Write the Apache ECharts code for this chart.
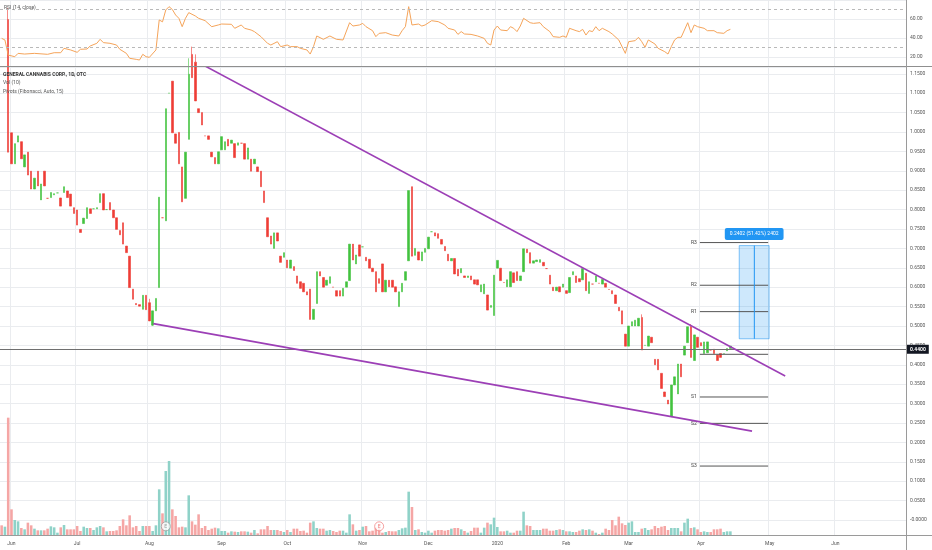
<!DOCTYPE html>
<html><head><meta charset="utf-8">
<script src="https://cdn.jsdelivr.net/npm/echarts@6/dist/echarts.min.js"></script>
<style>html,body{margin:0;padding:0;background:#fff}#c{width:932px;height:550px}</style>
</head><body><div id="c"></div>
<script>
// ---------- data ----------
const startDate = '2019-05-29';
const barCount = 276;
const holidays = ['2019-07-04','2019-09-02','2019-11-28','2019-12-25','2020-01-01','2020-01-20','2020-02-17','2020-04-10','2020-05-25'];
const monthAbbr = ['Jan','Feb','Mar','Apr','May','Jun','Jul','Aug','Sep','Oct','Nov','Dec'];

const openPrices = [1.30,1.26,1.29,0.998,0.918,0.974,0.975,0.910,0.948,0.899,
0.853,0.899,0.825,0.899,0.829,0.831,0.838,0.843,0.830,0.844,
0.848,0.840,0.805,0.799,0.749,0.764,0.777,0.802,0.802,0.802,
0.818,0.841,0.800,0.818,0.799,0.779,0.746,0.766,0.706,0.680,
0.595,0.558,0.555,0.543,0.579,0.560,0.502,0.539,0.599,0.779,
0.771,1.100,1.131,0.995,0.999,0.910,0.829,0.981,1.200,1.180,
1.060,1.050,0.990,0.990,0.948,0.934,0.918,0.954,0.954,0.981,
0.971,0.970,0.966,0.971,0.970,0.930,0.930,0.918,0.910,0.899,
0.848,0.779,0.732,0.700,0.740,0.680,0.677,0.670,0.649,0.653,
0.629,0.614,0.610,0.588,0.595,0.517,0.558,0.640,0.625,0.605,
0.610,0.600,0.591,0.591,0.577,0.600,0.617,0.711,0.660,0.709,
0.704,0.677,0.672,0.649,0.640,0.622,0.660,0.588,0.618,0.618,
0.601,0.550,0.588,0.618,0.668,0.859,0.682,0.691,0.668,0.690,
0.699,0.743,0.740,0.738,0.723,0.705,0.685,0.668,0.674,0.646,
0.637,0.629,0.625,0.629,0.619,0.619,0.588,0.583,0.580,0.548,
0.527,0.649,0.649,0.612,0.601,0.601,0.637,0.640,0.617,0.640,
0.698,0.689,0.662,0.666,0.664,0.664,0.648,0.631,0.600,0.591,
0.601,0.600,0.591,0.586,0.632,0.629,0.622,0.619,0.636,0.584,
0.608,0.614,0.610,0.608,0.610,0.594,0.591,0.580,0.548,0.539,
0.479,0.448,0.500,0.500,0.500,0.522,0.450,0.448,0.471,0.414,
0.414,0.378,0.330,0.309,0.268,0.348,0.325,0.402,0.425,0.457,
0.498,0.411,0.471,0.457,0.429,0.431,0.438,0.440,0.425,0.429,
0.429,0.436,0.442];

const closePrices = [1.26,1.29,0.948,0.918,0.970,0.990,0.931,0.941,0.889,0.853,
0.881,0.861,0.866,0.861,0.829,0.844,0.841,0.843,0.809,0.859,
0.831,0.809,0.790,0.760,0.741,0.778,0.805,0.790,0.802,0.805,
0.841,0.799,0.800,0.799,0.779,0.749,0.735,0.711,0.689,0.599,
0.569,0.555,0.551,0.579,0.542,0.513,0.539,0.571,0.832,0.779,
1.060,1.100,0.998,0.971,0.918,0.820,0.948,1.149,1.140,1.080,
1.050,1.018,0.990,0.981,0.936,0.918,0.949,0.988,0.975,0.964,
0.979,0.934,0.972,0.971,0.930,0.959,0.899,0.930,0.898,0.859,
0.818,0.730,0.711,0.740,0.719,0.664,0.689,0.650,0.670,0.643,
0.610,0.597,0.588,0.580,0.517,0.543,0.640,0.629,0.600,0.618,
0.627,0.600,0.577,0.577,0.597,0.614,0.711,0.670,0.683,0.680,
0.704,0.668,0.649,0.640,0.588,0.610,0.588,0.618,0.601,0.600,
0.588,0.588,0.610,0.640,0.849,0.680,0.700,0.670,0.691,0.700,
0.729,0.743,0.732,0.726,0.711,0.694,0.668,0.674,0.634,0.629,
0.648,0.625,0.629,0.619,0.608,0.606,0.606,0.608,0.541,0.553,
0.631,0.669,0.617,0.612,0.619,0.640,0.612,0.617,0.629,0.699,
0.689,0.662,0.668,0.670,0.671,0.655,0.648,0.608,0.591,0.600,
0.588,0.608,0.584,0.625,0.640,0.612,0.614,0.648,0.591,0.614,
0.608,0.629,0.610,0.620,0.600,0.594,0.583,0.558,0.539,0.505,
0.448,0.500,0.511,0.515,0.520,0.438,0.450,0.474,0.457,0.400,
0.387,0.339,0.318,0.299,0.348,0.369,0.402,0.369,0.448,0.498,
0.419,0.477,0.445,0.449,0.459,0.459,0.438,0.429,0.411,0.419,
0.429,0.442,0.448];

// visible wicks (bar index -> price); other bars have no wick beyond the body
const wickHighs = {2:1.32, 45:0.57, 57:1.19, 58:1.22, 59:1.20, 195:0.53, 210:0.505};
const wickLows = {46:0.500, 204:0.265};

const volumes = [29,25,352,77,45,41,21,17,37,29,
19,14,14,14,19,26,23,7,23,30,
17,17,17,27,12,25,21,21,15,23,
27,23,11,12,12,14,27,47,29,59,
23,27,12,27,27,27,12,29,137,65,
192,222,77,57,23,25,23,119,41,31,
62,21,27,15,19,22,20,12,12,7,
11,10,9,11,11,10,7,15,5,17,
17,27,15,15,15,12,9,15,9,19,
19,12,13,7,37,41,21,19,19,13,
15,12,9,13,13,7,62,32,13,15,
25,27,11,13,22,32,7,9,12,11,
11,15,20,22,130,84,15,17,9,7,
13,7,13,15,15,13,15,19,21,21,
17,12,7,12,22,22,7,22,37,32,
52,24,11,11,13,7,7,13,13,70,
29,27,15,15,15,19,19,13,13,15,
17,15,11,11,9,9,13,17,15,17,
13,7,3,7,19,15,45,29,55,35,
30,37,41,9,9,19,21,15,17,27,
21,25,27,15,21,21,21,11,37,49,
21,23,17,9,11,9,9,17,17,19,
9,11,11];

const rsiPoints = [[0,39.6],[1,37.9],[2,22],[4,20.3],[5,23.8],[7,23.1],[10,23.8],[14,22.8],[16,24.5],[18,24.5],[19,29.1],[21,27.4],[23,24.9],[24,28.1],[26,28.4],[27,31.6],[29,34.4],[30,38.6],[31,35.1],[33,34.4],[35,32.6],[36,28.1],[38,23.8],[39,18.6],[41,17.5],[42,16.8],[43,22.8],[44,20.3],[45,19.6],[47,27.4],[48,59],[49,57],[50,69.5],[51,73],[52,70],[53,64.2],[54,60.7],[55,51.9],[56,60.7],[57,66.7],[59,63.2],[60,60.7],[62,58.2],[64,51.9],[66,53.7],[67,54.7],[70,54.4],[71,50.2],[73,53.7],[74,50.2],[76,48.4],[77,46.7],[79,41.4],[81,34.4],[82,32.6],[84,36.1],[85,30.9],[87,32.6],[88,30.9],[90,30.9],[91,29.1],[93,27.4],[94,23.1],[95,30.9],[96,42.1],[98,38.6],[100,42.1],[102,38.6],[104,37.9],[106,56.1],[107,52.6],[109,53.7],[110,55.4],[111,51.9],[113,47.7],[114,41.4],[115,44.9],[117,45.6],[119,43.1],[121,42.1],[122,47.7],[123,52],[124,73],[125,53.7],[127,54.7],[128,52.6],[129,53.7],[131,58.2],[133,57.2],[135,53.7],[136,50.2],[138,48.4],[139,43.8],[140,46.7],[141,44.2],[143,43.8],[145,42.1],[147,39.6],[148,34.4],[149,32.6],[150,48.4],[151,52.6],[152,48.4],[154,47.7],[155,51.9],[156,50.2],[157,46.7],[158,52.6],[159,60.7],[161,56.1],[162,55.4],[164,56.1],[165,51.9],[167,46.7],[168,41.4],[170,40.7],[171,42.1],[172,40.7],[173,50.2],[175,47.7],[176,46.7],[177,49.1],[178,43.1],[179,47.7],[180,46.7],[181,51.9],[182,47.7],[183,50.2],[185,46.7],[186,44.2],[188,37.9],[190,23.8],[191,36.1],[193,37.2],[194,40.7],[195,36.1],[196,30.2],[197,37.9],[199,33.7],[200,29.1],[202,25.6],[203,23.1],[204,30.9],[205,37.9],[206,40.7],[207,40.7],[209,56.1],[210,45.6],[211,53.7],[212,51.9],[214,50.2],[215,47.7],[217,47.7],[218,45.6],[220,44.9],[221,47.7],[222,49.1]];
const rsiLevels = [70, 30];

// drawings (bar index, price)
const horizontalLevel = 0.44;
const upperTrend = [[58, 1.188], [238.7, 0.371]];
const lowerTrend = [[46.2, 0.506], [228.6, 0.229]];
const pivotNames = ['R3','R2','R1','P','S1','S2','S3'];
const pivotLevels = [0.715, 0.605, 0.537, 0.427, 0.317, 0.249, 0.139];
const pivotSpan = [212.7, 233.5];
const measureSpan = [224.7, 233.8];
const measureMid = 229.3;
const measurePrices = [0.467, 0.7072];
const measureText = '0.2402 (51.42%) 2402';
const earningsBars = [50, 115];
const earningsColors = ['#8a8a8a', '#ef6b6b'];

// ---------- derived ----------
const categories = [], monthLabel = [];
(function(){
  const d = new Date(startDate + 'T00:00:00Z');
  let prev = -1;
  while (categories.length < barCount) {
    const wd = d.getUTCDay(), iso = d.toISOString().slice(0,10);
    if (wd !== 0 && wd !== 6 && holidays.indexOf(iso) < 0) {
      const m = d.getUTCMonth();
      categories.push(iso);
      monthLabel.push(prev !== -1 && m !== prev ? (m === 0 ? String(d.getUTCFullYear()) : monthAbbr[m]) : '');
      prev = m;
    }
    d.setUTCDate(d.getUTCDate() + 1);
  }
})();
const isMonthStart = i => monthLabel[i] !== '';

const candleData = openPrices.map((o, i) => {
  const c = closePrices[i];
  const lo = wickLows[i] !== undefined ? wickLows[i] : Math.min(o, c);
  const hi = wickHighs[i] !== undefined ? wickHighs[i] : Math.max(o, c);
  return [o, c, lo, hi];
});
const UP = '#43c23f', DOWN = '#ee3d36';
const VUP = '#8fd2c8', VDOWN = '#f5a6a5';
function isUp(i) {
  const o = openPrices[i], c = closePrices[i];
  if (c !== o) return c > o;
  return i === 0 ? true : c >= closePrices[i - 1];
}
const volumeData = volumes.map((v, i) => ({ value: v, itemStyle: { color: isUp(i) ? VUP : VDOWN } }));

const FONT = 'Roboto, "Liberation Sans", sans-serif';
const GRIDLINE = '#eaecef';
const AXISTEXT = '#555';

const pivotSeries = pivotNames.map((name, k) => ({
  type: 'line', xAxisIndex: 3, yAxisIndex: 1, z: 4, silent: true,
  symbol: 'circle', symbolSize: 0, showSymbol: true,
  lineStyle: { color: '#555', width: 1 },
  data: [
    { value: [pivotSpan[0], pivotLevels[k]], label: { show: name !== 'P', position: 'left', distance: 3, formatter: name, fontSize: 5, color: '#444', fontFamily: FONT } },
    { value: [pivotSpan[1], pivotLevels[k]] }
  ]
}));

const option = {
  animation: false,
  backgroundColor: '#ffffff',
  textStyle: { fontFamily: FONT },
  grid: [
    { left: 0, right: 26, top: 0, height: 66 },
    { left: 0, right: 26, top: 67, bottom: 15 },
    { left: 0, right: 26, top: 385, bottom: 15 }
  ],
  xAxis: [
    { type: 'category', gridIndex: 0, data: categories, boundaryGap: true,
      axisLine: { show: false }, axisTick: { show: false }, axisLabel: { show: false },
      splitLine: { show: true, interval: (i) => isMonthStart(i), lineStyle: { color: GRIDLINE } } },
    { type: 'category', gridIndex: 1, data: categories, boundaryGap: true,
      axisLine: { show: false }, axisTick: { show: false },
      axisLabel: { show: true, interval: (i) => isMonthStart(i), formatter: (v, i) => monthLabel[i], fontSize: 5, color: AXISTEXT, margin: 6 },
      splitLine: { show: true, interval: (i) => isMonthStart(i), lineStyle: { color: GRIDLINE } } },
    { type: 'category', gridIndex: 2, data: categories, boundaryGap: true, show: false },
    { type: 'value', gridIndex: 1, min: -0.5, max: barCount - 0.5, show: false }
  ],
  yAxis: [
    { type: 'value', gridIndex: 0, position: 'right', min: 10.5, max: 80, splitNumber: 4,
      axisLine: { show: false }, axisTick: { show: false },
      axisLabel: { fontSize: 5, color: AXISTEXT, margin: 4, showMinLabel: false, showMaxLabel: false, formatter: v => v.toFixed(2) },
      splitLine: { lineStyle: { color: GRIDLINE } } },
    { type: 'value', gridIndex: 1, position: 'right', min: -0.0387, max: 1.1675, splitNumber: 24,
      axisLine: { show: false }, axisTick: { show: false },
      axisLabel: { fontSize: 5, color: AXISTEXT, margin: 4, showMinLabel: false, showMaxLabel: false,
        formatter: v => Math.abs(v) < 1e-9 ? '-0.0000' : v.toFixed(4) },
      splitLine: { lineStyle: { color: GRIDLINE } } },
    { type: 'value', gridIndex: 2, min: 0, max: 450, show: false }
  ],
  series: [
    { name: 'RSI', type: 'line', xAxisIndex: 0, yAxisIndex: 0, data: rsiPoints, symbol: 'none',
      lineStyle: { color: '#f5a45a', width: 1 }, z: 3, silent: true,
      markLine: { silent: true, symbol: 'none', label: { show: false },
        lineStyle: { color: '#b9b9b9', type: [3, 3], width: 1 },
        data: rsiLevels.map(v => ({ yAxis: v })) } },
    { name: 'Volume', type: 'bar', xAxisIndex: 2, yAxisIndex: 2, data: volumeData, barWidth: '78%', z: 1, silent: true },
    { name: 'Price', type: 'candlestick', xAxisIndex: 1, yAxisIndex: 1, data: candleData, barWidth: 2, z: 2, clip: true,
      itemStyle: { color: UP, color0: DOWN, borderColor: UP, borderColor0: DOWN, borderWidth: 0.6 } },
    { name: 'Upper trend', type: 'line', xAxisIndex: 3, yAxisIndex: 1, data: upperTrend, symbol: 'none', clip: true, z: 5, silent: true,
      lineStyle: { color: '#9c3fb6', width: 1.6 } },
    { name: 'Lower trend', type: 'line', xAxisIndex: 3, yAxisIndex: 1, data: lowerTrend, symbol: 'none', clip: true, z: 5, silent: true,
      lineStyle: { color: '#9c3fb6', width: 1.6 } },
    { name: 'Level', type: 'line', xAxisIndex: 3, yAxisIndex: 1, data: [], z: 4, silent: true,
      markLine: { silent: true, symbol: 'none', lineStyle: { color: '#6f6f6f', width: 1, type: 'solid' },
        label: { show: true, position: 'end', distance: 1, formatter: horizontalLevel.toFixed(4), color: '#fff',
          backgroundColor: '#131722', padding: [2, 3], fontSize: 5, fontWeight: 'bold' },
        data: [{ yAxis: horizontalLevel }] } },
    ...pivotSeries,
    { name: 'Measure', type: 'line', xAxisIndex: 3, yAxisIndex: 1, z: 6, silent: true, symbol: 'none',
      data: [[measureMid, measurePrices[0]], [measureMid, measurePrices[1]]],
      lineStyle: { color: '#2196f3', width: 1 },
      markArea: { silent: true,
        itemStyle: { color: 'rgba(33,150,243,0.22)', borderColor: 'rgba(33,150,243,0.55)', borderWidth: 1 },
        label: { show: true, position: 'top', distance: 5, formatter: measureText, color: '#fff', backgroundColor: '#2196f3',
          padding: [3.5, 5], borderRadius: 2, fontSize: 5 },
        data: [[{ coord: [measureSpan[0], measurePrices[0]] }, { coord: [measureSpan[1], measurePrices[1]] }]] } },
    { name: 'Earnings', type: 'scatter', xAxisIndex: 2, yAxisIndex: 2, z: 7, silent: true, symbol: 'circle', symbolSize: 9,
      data: earningsBars.map((b, k) => ({ value: [b, 26], itemStyle: { color: '#fff', borderColor: earningsColors[k], borderWidth: 0.8 },
        label: { show: true, position: 'inside', formatter: 'E', fontSize: 5, color: earningsColors[k] } })) }
  ],
  graphic: [
    { type: 'line', z: 100, shape: { x1: 0, y1: 66.5, x2: 932, y2: 66.5 }, style: { stroke: '#8f8f8f', lineWidth: 1 } },
    { type: 'line', z: 100, shape: { x1: 0, y1: 535.5, x2: 932, y2: 535.5 }, style: { stroke: '#9a9a9a', lineWidth: 1 } },
    { type: 'line', z: 100, shape: { x1: 906.5, y1: 0, x2: 906.5, y2: 550 }, style: { stroke: '#9a9a9a', lineWidth: 1 } },
    { type: 'text', z: 100, left: 4, top: 5, style: { text: 'RSI (14, close)', fontSize: 5, fill: '#555', fontFamily: FONT } },
    { type: 'text', z: 100, left: 3, top: 72, style: { text: 'GENERAL CANNABIS CORP., 1D, OTC', fontSize: 5, fontWeight: 'bold', fill: '#333', fontFamily: FONT } },
    { type: 'text', z: 100, left: 3, top: 80.5, style: { text: 'Vol (10)', fontSize: 5, fill: '#555', fontFamily: FONT } },
    { type: 'text', z: 100, left: 3, top: 89, style: { text: 'Pivots (Fibonacci, Auto, 15)', fontSize: 5, fill: '#555', fontFamily: FONT } }
  ]
};
const chart = echarts.init(document.getElementById('c'));
chart.setOption(option);
</script>
</body></html>
